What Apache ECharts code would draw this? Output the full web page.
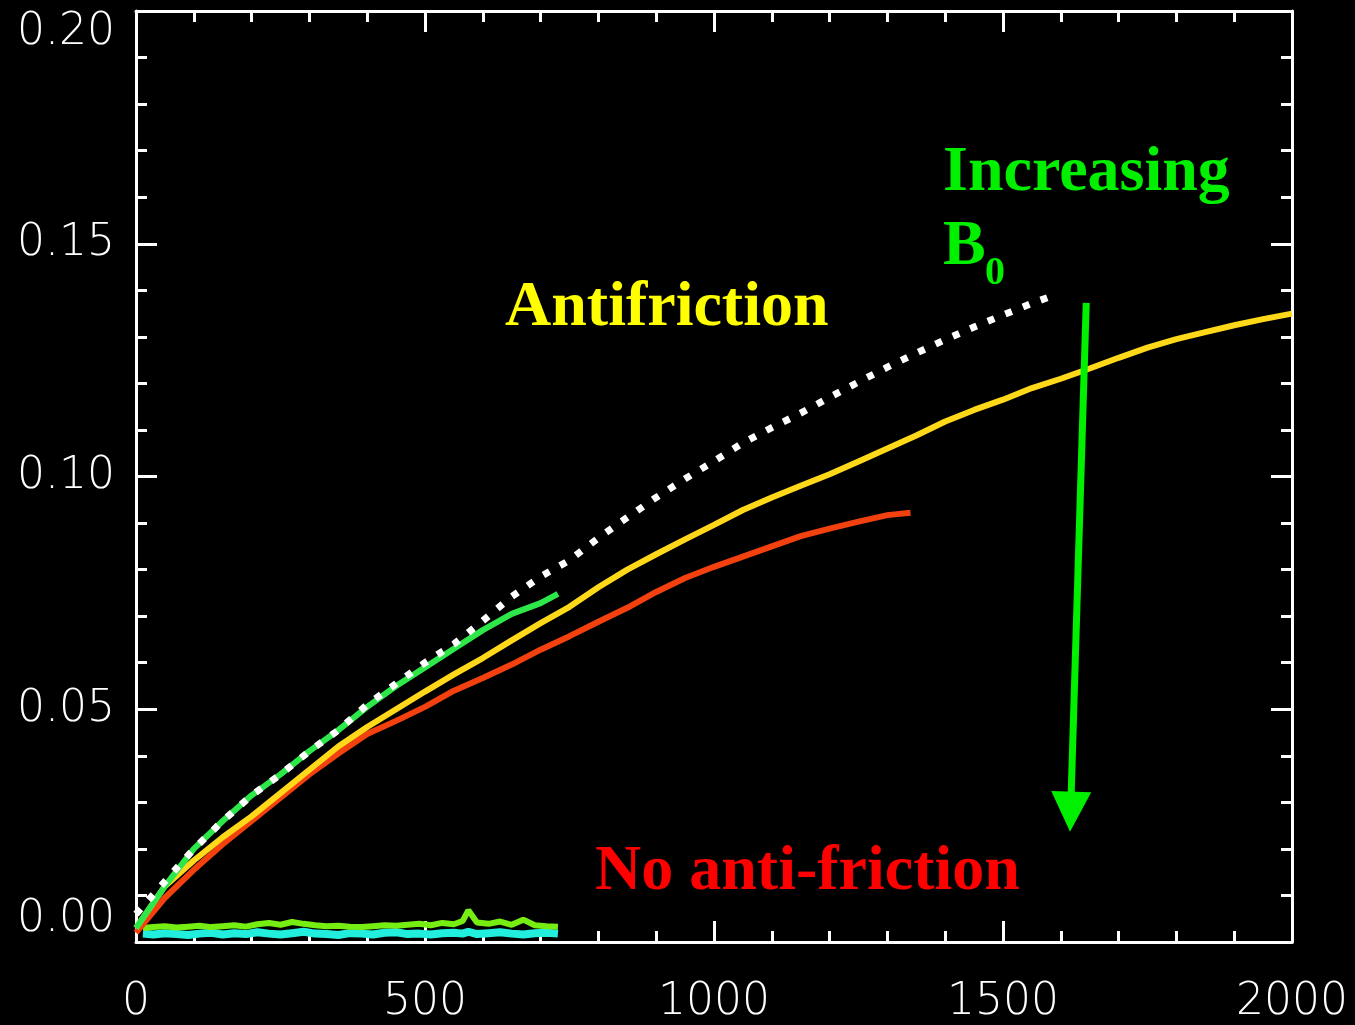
<!DOCTYPE html>
<html>
<head>
<meta charset="utf-8">
<script src="https://cdn.jsdelivr.net/npm/echarts@6/dist/echarts.min.js"></script>
<style>
  html, body { margin: 0; padding: 0; background: #000; }
  #chart { width: 1355px; height: 1025px; }
</style>
</head>
<body>
<div id="chart"></div>
<script>
// Axis ranges and tick spacing
const xRange = [0, 2000];
const xStep = 500;
const yRange = [0, 0.20];
const yStep = 0.05;

// Growth curves: [time, amplitude]
const whiteDotted = [
  [0, 0.006], [50, 0.013], [100, 0.020], [150, 0.026], [200, 0.0315], [250, 0.036],
  [300, 0.041], [350, 0.0455], [400, 0.051], [450, 0.0555], [500, 0.060], [550, 0.064],
  [600, 0.069], [650, 0.0742], [700, 0.0785], [750, 0.082], [800, 0.0868], [850, 0.0912],
  [900, 0.0955], [950, 0.0995], [1000, 0.1033], [1050, 0.1072], [1100, 0.1105],
  [1150, 0.1136], [1200, 0.117], [1250, 0.1203], [1300, 0.1235], [1350, 0.1265],
  [1400, 0.1294], [1450, 0.1321], [1500, 0.1347], [1550, 0.1372], [1585, 0.1388]
];

const yellowCurve = [
  [0, 0.003], [50, 0.012], [100, 0.0175], [150, 0.0225], [200, 0.027], [250, 0.032],
  [300, 0.037], [350, 0.042], [400, 0.0462], [450, 0.050], [500, 0.0538], [550, 0.0575],
  [600, 0.061], [650, 0.0648], [700, 0.0685], [750, 0.072], [800, 0.0762], [850, 0.080],
  [900, 0.0833], [950, 0.0865], [1000, 0.0896], [1050, 0.0928], [1100, 0.0955],
  [1150, 0.098], [1200, 0.1005], [1250, 0.1032], [1300, 0.106], [1350, 0.1088],
  [1400, 0.1118], [1450, 0.1143], [1500, 0.1165], [1550, 0.119], [1600, 0.121],
  [1650, 0.1232], [1700, 0.1255], [1750, 0.1277], [1800, 0.1295], [1850, 0.131],
  [1900, 0.1325], [1950, 0.1338], [2000, 0.135]
];

const redCurve = [
  [0, 0.002], [50, 0.0095], [100, 0.0155], [150, 0.021], [200, 0.026], [250, 0.031],
  [300, 0.036], [350, 0.0405], [400, 0.0447], [450, 0.0475], [500, 0.0505], [550, 0.054],
  [600, 0.0567], [650, 0.0596], [700, 0.0628], [750, 0.0657], [800, 0.0688], [850, 0.0718],
  [900, 0.0752], [950, 0.0782], [1000, 0.0806], [1050, 0.0828], [1100, 0.085],
  [1150, 0.0872], [1200, 0.0888], [1250, 0.0903], [1300, 0.0917], [1340, 0.0922]
];

const greenCurve = [
  [0, 0.003], [50, 0.012], [100, 0.020], [150, 0.026], [200, 0.0315], [250, 0.036],
  [300, 0.041], [350, 0.0455], [400, 0.0505], [450, 0.055], [500, 0.059], [550, 0.063],
  [600, 0.067], [650, 0.0705], [700, 0.0728], [730, 0.0748]
];

// Flat runs near zero
const flatTimes = [
  12, 30, 50, 70, 90, 110, 130, 150, 170, 190, 210, 230, 250, 270, 290, 310, 330, 350, 370,
  390, 410, 430, 450, 470, 490, 510, 530, 550, 565, 575, 590, 610, 630, 650, 670, 690, 710, 730
];
const limeValues = [
  0.0030, 0.0032, 0.0034, 0.0031, 0.0033, 0.0035, 0.0032, 0.0034, 0.0036, 0.0033, 0.0038,
  0.0041, 0.0037, 0.0043, 0.0039, 0.0036, 0.0034, 0.0035, 0.0033, 0.0032, 0.0034, 0.0036,
  0.0035, 0.0037, 0.0039, 0.0036, 0.0041, 0.0038, 0.0045, 0.0068, 0.0042, 0.0039, 0.0044,
  0.0037, 0.0048, 0.0036, 0.0034, 0.0033
];
const cyanValues = [
  0.0018, 0.0016, 0.0019, 0.0017, 0.0015, 0.0018, 0.0020, 0.0016, 0.0019, 0.0017, 0.0021,
  0.0018, 0.0016, 0.0019, 0.0022, 0.0018, 0.0017, 0.0015, 0.0019, 0.0018, 0.0016, 0.0020,
  0.0021, 0.0017, 0.0018, 0.0016, 0.0019, 0.0020, 0.0018, 0.0022, 0.0017, 0.0019, 0.0021,
  0.0018, 0.0016, 0.0019, 0.0020, 0.0018
];

// Trend arrow (start, end) in data units
const arrowFrom = [1644, 0.1373];
const arrowTo = [1617, 0.028];

const pairs = (xs, ys) => xs.map((x, i) => [x, ys[i]]);

const labelFont = { color: '#fff', fontFamily: 'DejaVu Sans', fontSize: 44, fontWeight: 300 };

function boxAxis(extra) {
  return Object.assign({
    type: 'value',
    axisLine: { show: true, onZero: false, lineStyle: { color: '#fff', width: 3 } },
    axisTick: { show: true, inside: true, length: 21, lineStyle: { color: '#fff', width: 3 } },
    minorTick: { show: true, splitNumber: 5, length: 11, lineStyle: { color: '#fff', width: 3 } },
    splitLine: { show: false },
    minorSplitLine: { show: false }
  }, extra);
}

const chart = echarts.init(document.getElementById('chart'));

const serif = 'Liberation Serif, Times New Roman, serif';

chart.setOption({
  backgroundColor: '#000',
  animation: false,
  grid: { left: 136, right: 63, top: 11, bottom: 79 },
  xAxis: [
    boxAxis({
      position: 'bottom', min: xRange[0], max: xRange[1], interval: xStep,
      axisLabel: Object.assign({ margin: 39, formatter: v => String(v) }, labelFont)
    }),
    boxAxis({
      position: 'top', min: xRange[0], max: xRange[1], interval: xStep,
      axisLabel: { show: false }
    })
  ],
  yAxis: [
    boxAxis({
      position: 'left', min: yRange[0], max: yRange[1], interval: yStep,
      axisLabel: Object.assign({
        margin: 21, formatter: v => v.toFixed(2),
        verticalAlignMinLabel: 'bottom', verticalAlignMaxLabel: 'top'
      }, labelFont)
    }),
    boxAxis({
      position: 'right', min: yRange[0], max: yRange[1], interval: yStep,
      axisLabel: { show: false }
    })
  ],
  series: [
    {
      type: 'line', data: pairs(flatTimes, cyanValues), showSymbol: false,
      lineStyle: { color: '#22eedd', width: 8 }
    },
    {
      type: 'line', data: pairs(flatTimes, limeValues), showSymbol: false,
      lineStyle: { color: '#77ee11', width: 6 }
    },
    {
      type: 'line', data: redCurve, showSymbol: false,
      lineStyle: { color: '#f2400f', width: 6 }
    },
    {
      type: 'line', data: yellowCurve, showSymbol: false,
      lineStyle: { color: '#ffd81a', width: 6 }
    },
    {
      type: 'line', data: greenCurve, showSymbol: false,
      lineStyle: { color: '#2ee84a', width: 6 }
    },
    {
      type: 'line', data: whiteDotted, showSymbol: false,
      lineStyle: { color: '#fff', width: 7, type: [7, 12], cap: 'butt' },
      markLine: {
        silent: true,
        symbol: ['none', 'triangle'],
        symbolSize: [40, 40],
        label: { show: false },
        lineStyle: { color: '#00f000', width: 7, type: 'solid' },
        data: [[{ coord: arrowFrom }, { coord: arrowTo }]]
      }
    }
  ],
  graphic: [
    {
      type: 'text', x: 505, y: 308, z: 10,
      style: { text: 'Antifriction', fill: '#ffff00', font: 'bold 64px ' + serif, verticalAlign: 'middle' }
    },
    {
      type: 'text', x: 943, y: 173, z: 10,
      style: { text: 'Increasing', fill: '#00f000', font: 'bold 64px ' + serif, verticalAlign: 'middle' }
    },
    {
      type: 'text', x: 943, y: 247, z: 10,
      style: { text: 'B', fill: '#00f000', font: 'bold 64px ' + serif, verticalAlign: 'middle' }
    },
    {
      type: 'text', x: 985, y: 274, z: 10,
      style: { text: '0', fill: '#00f000', font: 'bold 40px ' + serif, verticalAlign: 'middle' }
    },
    {
      type: 'text', x: 595, y: 872, z: 10,
      style: { text: 'No anti-friction', fill: '#ff0000', font: 'bold 64px ' + serif, verticalAlign: 'middle' }
    }
  ]
});
</script>
</body>
</html>
